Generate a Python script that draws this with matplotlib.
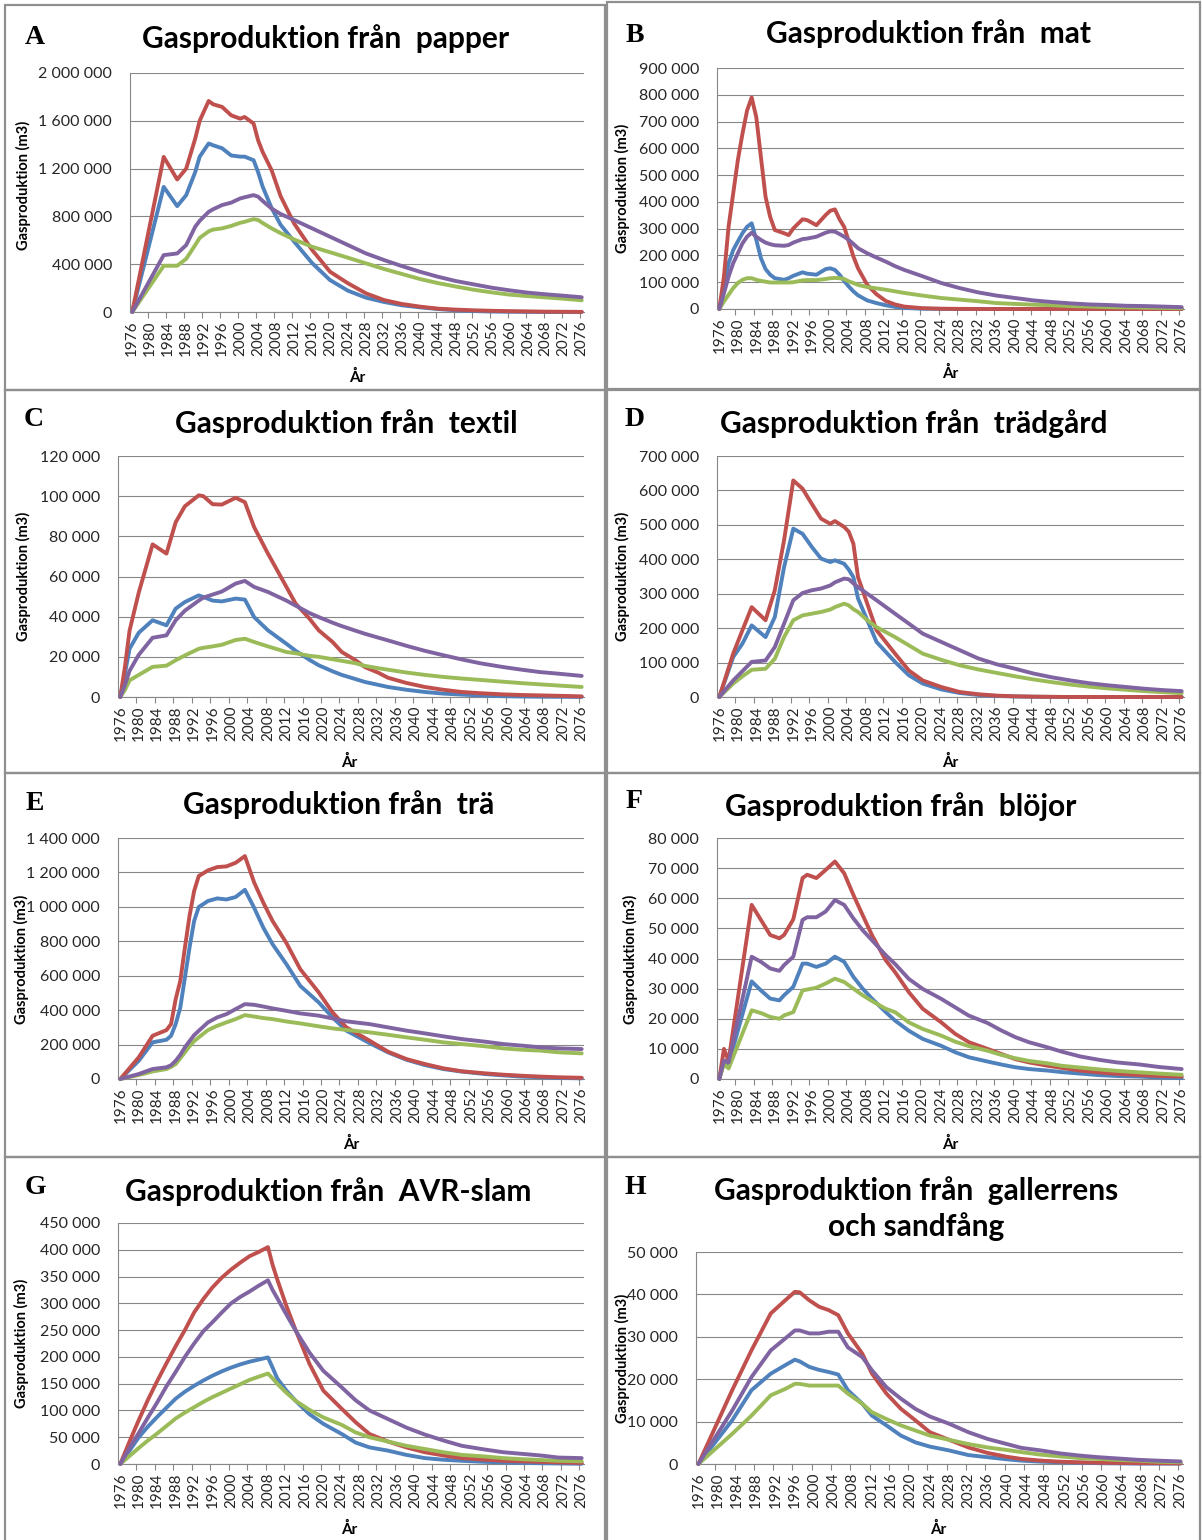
import numpy as np
import matplotlib.pyplot as plt
from matplotlib.patches import Rectangle
from matplotlib.ticker import FuncFormatter

W, H = 1202, 1540

# Excel 2007 series colours, in series order
BLUE, RED, GREEN, PURPLE = "#4F81BD", "#C0504D", "#9BBB59", "#8064A2"

# ---- values in 1000 m3 ----
# A papper
A_years = [1976, 1983, 1986, 1988, 1990, 1991, 1993, 1994, 1996, 1998, 2000, 2001, 2003, 2004, 2005, 2007, 2009,
           2012, 2016, 2020, 2024, 2028, 2032, 2036, 2040, 2044, 2048, 2052, 2056, 2060, 2064, 2068, 2072, 2076]
A_red = [0, 1298, 1109, 1200, 1450, 1600, 1766, 1738, 1716, 1646, 1618, 1632, 1577, 1437, 1340, 1187, 970,
         741, 520, 337, 240, 156, 100, 67, 45, 28, 20, 14, 10, 7, 5, 3, 2, 1]
A_blue = [0, 1047, 886, 978, 1170, 1300, 1410, 1395, 1370, 1310, 1300, 1300, 1270, 1170, 1050, 870, 730,
          590, 410, 267, 178, 120, 84, 56, 39, 25, 14, 8, 4, 2, 1, 0, 0, 0]
A_purple = [0, 476, 490, 560, 713, 763, 838, 860, 895, 915, 950, 960, 978, 965, 930, 866, 820,
            770, 700, 630, 560, 490, 435, 384, 337, 295, 259, 231, 203, 181, 162, 148, 136, 123]
A_green = [0, 387, 387, 445, 560, 620, 675, 690, 700, 720, 746, 755, 777, 770, 745, 700, 660,
           607, 546, 500, 454, 407, 360, 318, 276, 242, 213, 186, 164, 145, 133, 122, 111, 98]

# B mat
B_years = [1976, 1977, 1978, 1979, 1980, 1981, 1982, 1983, 1984, 1985, 1986, 1987, 1988, 1990, 1991, 1992,
           1994, 1995, 1997, 1999, 2000, 2001, 2002, 2003, 2004, 2005, 2006, 2008, 2010, 2012, 2014, 2016,
           2020, 2024, 2028, 2032, 2036, 2040, 2044, 2048, 2052, 2056, 2060, 2064, 2068, 2072, 2076]
B_red = [0, 121, 307, 431, 555, 654, 741, 790, 716, 567, 419, 344, 295, 283, 276, 301,
         335, 332, 313, 351, 367, 372, 335, 307, 252, 196, 152, 90, 55, 30, 17, 9,
         3, 1, 0.5, 0, 0, 0, 0, 0, 0, 0, 0, 0, 0, 0, 0]
B_blue = [0, 84, 171, 220, 252, 283, 307, 320, 258, 190, 149, 128, 115, 109, 115, 124,
          137, 132, 128, 149, 152, 146, 128, 105, 84, 66, 51, 32, 22, 14, 8, 4,
          1, 0.5, 0, 0, 0, 0, 0, 0, 0, 0, 0, 0, 0, 0, 0]
B_purple = [0, 59, 121, 171, 208, 245, 270, 285, 270, 258, 248, 242, 238, 236, 239, 248,
            261, 263, 270, 285, 290, 289, 280, 270, 258, 243, 227, 208, 192, 177, 160, 146,
            122, 97, 78, 62, 50, 41, 32, 26, 21, 17, 15, 12, 11, 9, 7]
B_green = [0, 28, 53, 78, 97, 109, 115, 115, 109, 105, 102, 99, 99, 99, 99, 100,
           107, 108, 108, 112, 115, 116, 115, 112, 103, 97, 90, 82, 77, 72, 66, 60,
           50, 41, 35, 29, 22, 19, 16, 14, 11, 9, 7, 6, 5, 4, 3]

# C textil
C_years = [1976, 1977, 1978, 1980, 1983, 1986, 1988, 1990, 1993, 1994, 1996, 1998, 2001, 2003, 2005, 2008,
           2012, 2014, 2017, 2019, 2022, 2024, 2027, 2029, 2032, 2034, 2038, 2042, 2046, 2050, 2054, 2059,
           2063, 2067, 2071, 2076]
C_red = [0, 15, 33, 52, 76, 71.4, 87, 95, 100.4, 100, 96, 95.8, 99.2, 97, 84.6, 71.4,
         54.8, 46.5, 39, 33.2, 27.4, 22.4, 18.3, 14.9, 12, 9.6, 7, 5, 3.6, 2.5, 1.9, 1.3,
         1, 0.8, 0.6, 0.3]
C_blue = [0, 11.6, 24, 32, 38.2, 35.7, 44, 47.3, 50.6, 49.8, 48, 47.6, 49, 48.5, 39.8, 33.2,
          26.5, 23, 18.5, 15.8, 12.8, 11, 8.9, 7.5, 6, 5, 3.6, 2.5, 1.7, 1.2, 0.8, 0.4,
          0.25, 0.15, 0.1, 0.05]
C_purple = [0, 6, 13, 21, 29.5, 30.7, 38.2, 43, 48, 49.5, 51, 52.5, 56.5, 57.8, 54.8, 52.3,
            48, 45.5, 41.8, 39.8, 37, 35.3, 33, 31.5, 29.5, 28.2, 25.5, 23, 20.8, 18.7, 16.8, 14.9,
            13.6, 12.4, 11.6, 10.5]
C_green = [0, 3.5, 8.3, 11, 15, 15.6, 18.3, 20.7, 24, 24.5, 25.2, 26, 28.4, 29, 27.4, 25.2,
           22.4, 21.8, 20.5, 20, 18.8, 18, 16.8, 15.5, 14.3, 13.6, 12.2, 11, 10, 9.2, 8.5, 7.6,
           6.9, 6.3, 5.7, 5]

# D trädgård
D_years = [1976, 1979, 1981, 1983, 1986, 1988, 1990, 1992, 1994, 1996, 1998, 2000, 2001, 2003, 2004, 2005,
           2006, 2008, 2010, 2014, 2017, 2020, 2024, 2028, 2032, 2036, 2040, 2044, 2048, 2052, 2056, 2060,
           2064, 2068, 2072, 2076]
D_red = [0, 126, 194, 261, 223, 310, 455, 629, 605, 561, 518, 503, 511, 494, 480, 445,
         348, 271, 194, 126, 77, 48, 29, 14.5, 8, 4, 2, 1, 0.5, 0, 0, 0, 0, 0, 0, 0]
D_blue = [0, 116, 155, 208, 174, 232, 377, 489, 474, 436, 402, 392, 397, 387, 370, 348,
          286, 223, 160, 102, 63, 39, 22, 11.6, 6, 3, 1.5, 0.8, 0.3, 0, 0, 0, 0, 0, 0, 0]
D_purple = [0, 48, 75, 102, 106, 145, 213, 281, 302, 310, 315, 324, 333, 344, 342, 330,
            319, 300, 281, 242, 213, 184, 160, 136, 112, 95, 82, 68, 57, 48, 40, 34, 29, 24, 20, 17]
D_green = [0, 39, 60, 79, 82, 111, 174, 223, 237, 242, 247, 254, 261, 271, 266, 255,
           247, 223, 203, 174, 150, 126, 108, 92, 80, 70, 60, 51, 43, 36, 30, 25, 21, 17, 14, 11]

# E trä
E_years = [1976, 1980, 1983, 1986, 1987, 1988, 1989, 1990, 1991, 1992, 1993, 1995, 1997, 1999, 2001, 2003,
           2005, 2007, 2009, 2012, 2015, 2019, 2022, 2025, 2030, 2034, 2038, 2042, 2046, 2050, 2055, 2059,
           2063, 2067, 2071, 2076]
E_red = [0, 126, 251, 284, 319, 464, 570, 763, 947, 1092, 1179, 1212, 1231, 1235, 1256, 1295,
         1142, 1024, 918, 790, 638, 503, 387, 300, 223, 159, 116, 87, 62, 45, 33, 25, 19, 14, 10, 7]
E_blue = [0, 106, 213, 228, 251, 319, 415, 589, 763, 918, 999, 1034, 1049, 1043, 1057, 1099,
          995, 879, 783, 667, 541, 445, 358, 281, 209, 155, 112, 81, 58, 43, 29, 21, 14, 10, 6, 4]
E_purple = [0, 29, 58, 68, 80, 106, 140, 184, 220, 255, 280, 329, 358, 377, 406, 435,
            431, 421, 410, 396, 381, 368, 352, 335, 319, 300, 281, 265, 248, 232, 217, 203, 194, 184, 178, 174]
E_green = [0, 23, 44, 58, 70, 87, 120, 155, 190, 220, 242, 284, 309, 329, 348, 371,
           363, 354, 348, 334, 323, 306, 294, 285, 271, 257, 242, 228, 213, 203, 190, 178, 170, 165, 155, 149]

# F blöjor
F_years = [1976, 1977, 1978, 1983, 1985, 1987, 1989, 1990, 1992, 1994, 1995, 1997, 1999, 2001, 2003, 2005,
           2007, 2009, 2012, 2014, 2017, 2020, 2024, 2027, 2030, 2034, 2037, 2040, 2043, 2047, 2050, 2054,
           2058, 2062, 2067, 2071, 2076]
F_red = [0, 10, 6, 57.8, 52.8, 47.8, 46.7, 47.8, 53, 66.7, 67.8, 66.7, 69.4, 72.2, 68.3, 61.1,
         54.4, 47.8, 39.4, 35.5, 28.8, 23.3, 18.8, 15, 12.2, 10, 8.3, 6.6, 5.5, 4.4, 3.7, 2.8,
         2.2, 1.7, 1.3, 1, 0.8]
F_blue = [0, 6.1, 5, 32.4, 29.4, 26.7, 26.1, 27.8, 30.6, 38.3, 38.3, 37.2, 38.3, 40.6, 38.9, 33.9,
          30, 26.7, 22.2, 19.4, 16, 13.3, 11, 8.9, 7.2, 5.8, 4.8, 3.9, 3.3, 2.8, 2.3, 1.8,
          1.3, 1, 0.8, 0.5, 0.3]
F_purple = [0, 6.1, 5.5, 40.6, 38.9, 36.7, 35.9, 37.8, 40.6, 52.8, 53.7, 53.7, 55.6, 59.4, 57.8, 53.3,
            49.4, 46.1, 41.1, 38.2, 33.2, 29.9, 26.6, 23.8, 21, 18.6, 16.1, 13.9, 12.2, 10.5, 9.1, 7.5,
            6.4, 5.5, 4.8, 4, 3.3]
F_green = [0, 5, 3.5, 22.8, 21.9, 20.6, 20, 21.1, 22.2, 29.4, 29.7, 30.3, 31.7, 33.3, 32.2, 30,
           27.8, 25.9, 23.3, 22.2, 18.8, 16.6, 14.4, 12.4, 10.9, 9.4, 8, 6.9, 6, 5.2, 4.4, 3.8,
           3.2, 2.7, 2.2, 1.8, 1.4]

# G AVR-slam
G_years = [1976, 1978, 1980, 1982, 1984, 1986, 1988, 1990, 1992, 1994, 1996, 1998, 2000, 2002, 2004, 2006,
           2008, 2009, 2010, 2012, 2014, 2017, 2020, 2024, 2027, 2030, 2034, 2038, 2042, 2046, 2050, 2055,
           2059, 2063, 2067, 2071, 2076]
G_red = [0, 42, 82, 120, 155, 188, 220, 250, 283, 308, 330, 348, 363, 376, 388, 396,
         405, 372, 345, 295, 250, 187, 137, 103, 78, 56, 42, 31, 22, 16, 11, 8, 6, 5, 4, 3, 2]
G_blue = [0, 25, 50, 70, 88, 105, 122, 135, 146, 156, 165, 173, 180, 186, 191, 195,
          199, 180, 160, 137, 118, 93, 75, 56, 40, 31, 25, 17, 11, 8, 6, 4, 3, 2, 1.5, 1, 0.5]
G_purple = [0, 30, 58, 87, 115, 145, 172, 200, 225, 248, 265, 283, 300, 312, 322, 333,
            343, 325, 310, 279, 249, 208, 174, 143, 119, 100, 84, 68, 55, 44, 34, 27, 22, 19, 16, 12, 11]
G_green = [0, 15, 30, 44, 57, 71, 85, 96, 106, 116, 125, 133, 141, 149, 157, 163,
           169, 160, 150, 133, 118, 101, 87, 73, 59, 50, 42, 34, 28, 22, 17, 14, 11, 9, 7.5, 6, 5]

# H gallerrens och sandfång
H_years = [1976, 1983, 1987, 1991, 1994, 1996, 1997, 1999, 2001, 2003, 2005, 2007, 2010, 2012, 2015, 2018,
           2021, 2024, 2028, 2032, 2036, 2040, 2043, 2047, 2051, 2055, 2059, 2063, 2067, 2071, 2076]
H_red = [0, 17.4, 26.8, 35.5, 38.6, 40.6, 40.5, 38.6, 37.1, 36.3, 35.1, 30.8, 26, 21.3, 16.6, 13,
         10.3, 7.5, 5.7, 3.9, 2.6, 1.7, 1.2, 0.8, 0.55, 0.4, 0.3, 0.25, 0.2, 0.18, 0.15]
H_blue = [0, 10.3, 17.4, 21.3, 23.3, 24.6, 24.2, 22.9, 22.2, 21.7, 21.1, 17.4, 14.2, 11.4, 9.1, 6.7,
          5.1, 4.1, 3.2, 2.1, 1.6, 1.1, 0.8, 0.55, 0.4, 0.3, 0.2, 0.15, 0.1, 0.1, 0.1]
H_purple = [0, 12.6, 20.5, 26.8, 29.6, 31.5, 31.5, 30.8, 30.8, 31.2, 31.2, 27.5, 25.2, 22.1, 18.1, 15.4,
            13, 11.2, 9.5, 7.5, 5.9, 4.7, 3.8, 3.2, 2.5, 2, 1.6, 1.3, 1, 0.8, 0.6]
H_green = [0, 7.1, 11.4, 16.2, 17.7, 18.9, 18.9, 18.5, 18.5, 18.5, 18.5, 16.6, 14.2, 12.2, 10.6, 9.1,
           7.9, 6.7, 5.7, 4.7, 3.9, 3.3, 2.8, 2.2, 1.8, 1.4, 1.2, 0.95, 0.8, 0.55, 0.4]

year_ticks = list(range(1976, 2077, 4))

panels = [
    ("A", "Gasproduktion från  papper", A_years, A_blue, A_red, A_green, A_purple, 2000000, 400000),
    ("B", "Gasproduktion från  mat", B_years, B_blue, B_red, B_green, B_purple, 900000, 100000),
    ("C", "Gasproduktion från  textil", C_years, C_blue, C_red, C_green, C_purple, 120000, 20000),
    ("D", "Gasproduktion från  trädgård", D_years, D_blue, D_red, D_green, D_purple, 700000, 100000),
    ("E", "Gasproduktion från  trä", E_years, E_blue, E_red, E_green, E_purple, 1400000, 200000),
    ("F", "Gasproduktion från  blöjor", F_years, F_blue, F_red, F_green, F_purple, 80000, 10000),
    ("G", "Gasproduktion från  AVR-slam", G_years, G_blue, G_red, G_green, G_purple, 450000, 50000),
    ("H", "Gasproduktion från  gallerrens\noch sandfång", H_years, H_blue, H_red, H_green, H_purple, 50000, 10000),
]

# pixel layout: axes box, letter, title, y label, x label, frame
layout = {
    "A": ((130, 73, 584, 312), (35, 37), (326, 39), (23, 185), (357, 377), (5, 5, 605, 390)),
    "B": ((717, 68, 1184, 309), (635, 35), (929, 34), (622, 188), (950, 373), (607, 2, 1200, 389)),
    "C": ((118, 456, 584, 697), (34, 420), (346, 424), (23, 576), (349, 762), (5, 390, 605, 773)),
    "D": ((717, 456, 1184, 697), (635, 420), (914, 424), (622, 576), (950, 762), (607, 390, 1200, 773)),
    "E": ((118, 838, 584, 1079), (35, 803), (339, 805), (21, 959), (351, 1144), (5, 773, 605, 1157)),
    "F": ((717, 838, 1184, 1079), (634, 802), (901, 807), (630, 959), (950, 1144), (607, 773, 1200, 1157)),
    "G": ((118, 1223, 584, 1464), (35, 1188), (328, 1192), (21, 1343), (349, 1529), (5, 1157, 605, 1560)),
    "H": ((696, 1252, 1183, 1464), (635, 1187), (916, 1209), (622, 1358), (938, 1529), (607, 1157, 1200, 1560)),
}

GRID = "#878787"
FONT = "Lato"

fig = plt.figure(figsize=(W / 100, H / 100), dpi=100)


def fx(x):
    return x / W


def fy(y):
    return 1 - y / H


for letter, title, years, blue, red, green, purple, ymax, ystep in panels:
    (x0, y0, x1, y1), lpos, tpos, ylpos, xlpos, frame = layout[letter]
    ax = fig.add_axes([fx(x0), fy(y1), (x1 - x0) / W, (y1 - y0) / H])
    for vals, col in ((blue, BLUE), (red, RED), (green, GREEN), (purple, PURPLE)):
        ax.plot(years, np.array(vals) * 1000, color=col, lw=2.8,
                solid_joinstyle="round", solid_capstyle="round", clip_on=False, zorder=3)
    ax.set_xlim(1975.5, 2076.5)
    ax.set_ylim(0, ymax)
    ax.set_yticks(np.arange(0, ymax + 1, ystep))
    ax.yaxis.set_major_formatter(FuncFormatter(lambda v, p: f"{int(v):,}".replace(",", " ")))
    ax.set_xticks(year_ticks)
    ax.set_xticklabels([str(t) for t in year_ticks], rotation=90)
    ax.set_xticks(np.arange(1979.5, 2076, 4), minor=True)
    ax.tick_params(axis="x", which="major", length=0, pad=6, labelsize=11, labelcolor="#262626")
    ax.tick_params(axis="x", which="minor", length=4, width=0.8, color=GRID)
    ax.tick_params(axis="y", length=0, pad=13, labelsize=11.5, labelcolor="#262626")
    for lab in ax.get_xticklabels() + ax.get_yticklabels():
        lab.set_family(FONT)
    ax.yaxis.grid(True, color=GRID, lw=0.8)
    ax.set_axisbelow(True)
    for s in ("top", "right"):
        ax.spines[s].set_visible(False)
    for s in ("left", "bottom"):
        ax.spines[s].set_color(GRID)
        ax.spines[s].set_linewidth(0.8)

    fig.text(fx(lpos[0]), fy(lpos[1]), letter, ha="center", va="center",
             fontsize=20, fontweight="bold", family="Liberation Serif")
    fig.text(fx(tpos[0]), fy(tpos[1]), title, ha="center", va="center", fontsize=21.5,
             fontweight="bold", family=FONT, linespacing=1.3)
    fig.text(fx(ylpos[0]), fy(ylpos[1]), "Gasproduktion (m3)", ha="center", va="center",
             rotation=90, fontsize=10.5, fontweight="bold", family=FONT)
    fig.text(fx(xlpos[0]), fy(xlpos[1]), "År", ha="center", va="center",
             fontsize=11, fontweight="bold", family=FONT)
    fx0, fy0, fx1, fy1 = frame
    fig.add_artist(Rectangle((fx(fx0), fy(fy1)), (fx1 - fx0) / W, (fy1 - fy0) / H,
                             transform=fig.transFigure, fill=False, ec="#8f8f8f", lw=1.6))

fig.savefig("out.png", dpi=100)
